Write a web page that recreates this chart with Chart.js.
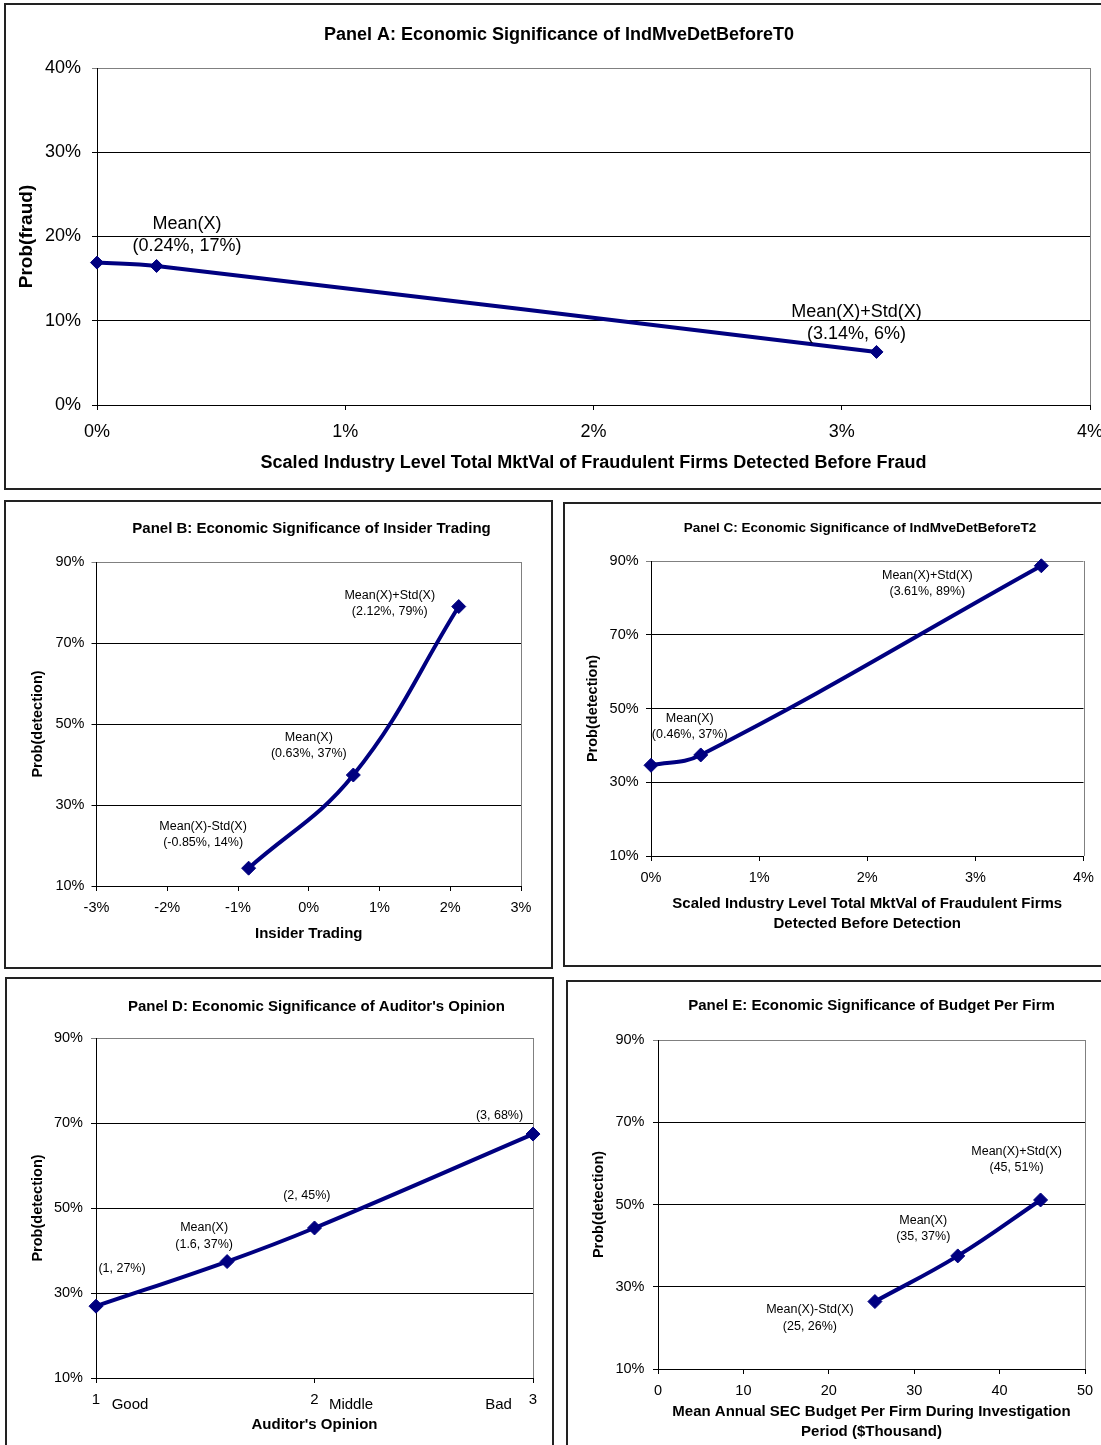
<!DOCTYPE html>
<html><head><meta charset="utf-8">
<script src="https://cdn.jsdelivr.net/npm/chart.js@4.4.0/dist/chart.umd.min.js"></script>
<style>
html,body{margin:0;padding:0;background:#fff;width:1101px;height:1445px;overflow:hidden;}
.panel{position:absolute;border:2px solid #222;box-sizing:border-box;background:#fff;}
.panel canvas{position:absolute;left:0;top:0;}
</style></head><body>
<div id="pA" class="panel"><canvas></canvas></div>
<div id="pB" class="panel"><canvas></canvas></div>
<div id="pC" class="panel"><canvas></canvas></div>
<div id="pD" class="panel"><canvas></canvas></div>
<div id="pE" class="panel"><canvas></canvas></div>
<script>
// ---------------- DATA ----------------
// Panel A
const aX = [0, 0.24, 3.14];
const aY = [16.9, 16.5, 6.3];
const aLabels = [[], ['Mean(X)', '(0.24%, 17%)'], ['Mean(X)+Std(X)', '(3.14%, 6%)']];
// Panel B
const bX = [-0.85, 0.63, 2.12];
const bY = [14.4, 37.4, 79];
const bLabels = [['Mean(X)-Std(X)', '(-0.85%, 14%)'], ['Mean(X)', '(0.63%, 37%)'], ['Mean(X)+Std(X)', '(2.12%, 79%)']];
// Panel C
const cX = [0, 0.46, 3.61];
const cY = [34.6, 37.4, 88.7];
const cLabels = [[], ['Mean(X)', '(0.46%, 37%)'], ['Mean(X)+Std(X)', '(3.61%, 89%)']];
// Panel D
const dX = [1, 1.6, 2, 3];
const dY = [26.9, 37.4, 45.3, 67.4];
const dLabels = [['(1, 27%)'], ['Mean(X)', '(1.6, 37%)'], ['(2, 45%)'], ['(3, 68%)']];
const dTickWords = ['Good', 'Middle', 'Bad'];
const dTickWordValues = [1, 2, 3];
// Panel E
const eX = [25.4, 35.1, 44.8];
const eY = [26.4, 37.5, 51.1];
const eLabels = [['Mean(X)-Std(X)', '(25, 26%)'], ['Mean(X)', '(35, 37%)'], ['Mean(X)+Std(X)', '(45, 51%)']];

// ---------------- STYLE / LAYOUT ----------------
const FONT = '"Liberation Sans", Arial, Helvetica, sans-serif';
const NAVY = '#000080';
const pct = v => v + '%';
const plain = v => String(v);

function makeChart(cfg) {
  const BW = 2;
  const div = document.getElementById(cfg.id);
  const [bx0, by0, bx1, by1] = cfg.box;
  Object.assign(div.style, {left: bx0 + 'px', top: by0 + 'px', width: (bx1 - bx0) + 'px', height: (by1 - by0) + 'px'});
  const ox = bx0 + BW, oy = by0 + BW, cw = bx1 - bx0 - 2 * BW, ch = by1 - by0 - 2 * BW;
  const canvas = div.querySelector('canvas');
  canvas.width = cw; canvas.height = ch;
  canvas.style.width = cw + 'px'; canvas.style.height = ch + 'px';
  const WY = 60, HX = 45;
  const [pl, pt, pr, pb] = cfg.plot;
  const padding = {left: pl - ox - WY, top: pt - oy, right: ox + cw - pr, bottom: oy + ch - pb - HX};
  const font = (size, bold) => (bold ? 'bold ' : '') + size + 'px ' + FONT;

  const plugin = {
    id: 'panelText' + cfg.id,
    beforeDatasetsDraw(chart) {
      const {ctx, chartArea: a} = chart;
      ctx.save();
      ctx.strokeStyle = '#808080'; ctx.lineWidth = 1;
      const rx = Math.round(a.right) + 0.5;
      ctx.beginPath(); ctx.moveTo(rx, a.top); ctx.lineTo(rx, a.bottom); ctx.stroke();
      ctx.restore();
    },
    afterDraw(chart) {
      const {ctx, chartArea: a, scales} = chart;
      ctx.save();
      ctx.fillStyle = '#000'; ctx.textAlign = 'center'; ctx.textBaseline = 'middle';
      ctx.font = font(cfg.titleSize, true);
      ctx.fillText(cfg.title, cfg.titlePos[0] - ox, cfg.titlePos[1] - oy);
      ctx.font = font(cfg.axisSize, true);
      const cxm = (a.left + a.right) / 2;
      cfg.xTitle.forEach((t, i) => ctx.fillText(t, cxm, a.bottom + cfg.xTitleDy + i * cfg.xTitleGap));
      ctx.save();
      ctx.font = font(cfg.yTitleSize, true);
      ctx.translate(a.left - cfg.yTitleDx, (a.top + a.bottom) / 2);
      ctx.rotate(-Math.PI / 2);
      ctx.fillText(cfg.yTitle, 0, 0);
      ctx.restore();
      ctx.font = font(cfg.labelSize, false);
      cfg.xs.forEach((xv, i) => {
        const lines = cfg.labels[i];
        if (!lines || !lines.length) return;
        const px = scales.x.getPixelForValue(xv), py = scales.y.getPixelForValue(cfg.ys[i]);
        const [dx, dy] = cfg.labelOffsets[i];
        lines.forEach((t, j) => ctx.fillText(t, px + dx, py + dy + j * cfg.labelGap));
      });
      if (cfg.words) {
        ctx.font = font(cfg.words.size, false);
        cfg.words.text.forEach((t, i) => {
          const px = scales.x.getPixelForValue(cfg.words.at[i]);
          ctx.fillText(t, px + cfg.words.dx[i], a.bottom + cfg.words.dy);
        });
      }
      ctx.restore();
    }
  };

  const ymax = cfg.y[1];
  return new Chart(canvas, {
    type: 'line',
    data: {
      datasets: [{
        data: cfg.xs.map((x, i) => ({x: x, y: cfg.ys[i]})),
        borderColor: NAVY, backgroundColor: NAVY, borderWidth: cfg.lineWidth,
        pointStyle: 'rectRot', pointRadius: cfg.pointRadius, pointBorderWidth: 1,
        pointBackgroundColor: NAVY, pointBorderColor: NAVY,
        tension: 0.4, clip: false, fill: false
      }]
    },
    options: {
      responsive: false, animation: false, devicePixelRatio: 1, events: [],
      layout: {padding: padding},
      plugins: {legend: {display: false}, tooltip: {enabled: false}, title: {display: false}},
      scales: {
        x: {
          type: 'linear', min: cfg.x[0], max: cfg.x[1],
          ticks: {stepSize: cfg.x[2], callback: cfg.xFmt, font: {family: FONT, size: cfg.xTickSize}, color: '#000',
                  padding: cfg.xTickPad, maxRotation: 0, autoSkip: false},
          grid: {drawOnChartArea: false, drawTicks: true, tickLength: 5, color: '#000', lineWidth: 1},
          border: {color: '#000', width: 1},
          afterFit(s) { s.height = HX; s.paddingLeft = 0; s.paddingRight = 0; }
        },
        y: {
          type: 'linear', min: cfg.y[0], max: cfg.y[1],
          ticks: {stepSize: cfg.y[2], callback: pct, font: {family: FONT, size: cfg.yTickSize}, color: '#000',
                  padding: cfg.yTickPad},
          grid: {color: c => (c.tick && c.tick.value === ymax) ? '#808080' : '#000', lineWidth: 1, tickLength: 5, drawTicks: true},
          border: {color: '#000', width: 1},
          afterFit(s) { s.width = WY; s.paddingTop = 0; s.paddingBottom = 0; }
        }
      }
    },
    plugins: [plugin]
  });
}

makeChart({
  id: 'pA', box: [4, 3, 1112, 490], plot: [97, 68, 1090, 405],
  xs: aX, ys: aY, labels: aLabels, labelOffsets: [[0, 0], [30.5, -42], [-20, -40]], labelGap: 22.5, labelSize: 18,
  x: [0, 4, 1], y: [0, 40, 10], xFmt: pct,
  xTickSize: 18, yTickSize: 18, xTickPad: 11, yTickPad: 11,
  title: 'Panel A: Economic Significance of IndMveDetBeforeT0', titleSize: 18, titlePos: [559, 35],
  xTitle: ['Scaled Industry Level Total MktVal of Fraudulent Firms Detected Before Fraud'], axisSize: 18, xTitleDy: 58, xTitleGap: 0,
  yTitle: 'Prob(fraud)', yTitleSize: 19, yTitleDx: 70,
  lineWidth: 4, pointRadius: 6.5
});

makeChart({
  id: 'pB', box: [4, 500, 553, 969], plot: [96.5, 562, 521, 886],
  xs: bX, ys: bY, labels: bLabels, labelOffsets: [[-45.5, -42], [-44.5, -37], [-69, -11]], labelGap: 16, labelSize: 12.5,
  x: [-3, 3, 1], y: [10, 90, 20], xFmt: pct,
  xTickSize: 14.5, yTickSize: 14.5, xTickPad: 8.3, yTickPad: 7,
  title: 'Panel B: Economic Significance of Insider Trading', titleSize: 15, titlePos: [311.5, 528.5],
  xTitle: ['Insider Trading'], axisSize: 15, xTitleDy: 48, xTitleGap: 0,
  yTitle: 'Prob(detection)', yTitleSize: 14.5, yTitleDx: 58.5,
  lineWidth: 4, pointRadius: 7
});

makeChart({
  id: 'pC', box: [563, 502, 1112, 967], plot: [651, 561, 1083.5, 856],
  xs: cX, ys: cY, labels: cLabels, labelOffsets: [[0, 0], [-11, -36], [-114, 9.5]], labelGap: 16, labelSize: 12.5,
  x: [0, 4, 1], y: [10, 90, 20], xFmt: pct,
  xTickSize: 14.5, yTickSize: 14.5, xTickPad: 8.3, yTickPad: 7.4,
  title: 'Panel C: Economic Significance of IndMveDetBeforeT2', titleSize: 13.5, titlePos: [860, 528.5],
  xTitle: ['Scaled Industry Level Total MktVal of Fraudulent Firms', 'Detected Before Detection'], axisSize: 15, xTitleDy: 48, xTitleGap: 19.5,
  yTitle: 'Prob(detection)', yTitleSize: 14.5, yTitleDx: 58,
  lineWidth: 4, pointRadius: 7
});

makeChart({
  id: 'pD', box: [5, 977, 554, 1455], plot: [96, 1038, 533, 1378],
  xs: dX, ys: dY, labels: dLabels, labelOffsets: [[26, -38], [-23, -34], [-7.7, -32], [-33.5, -18.7]], labelGap: 17, labelSize: 12.5,
  x: [1, 3, 1], y: [10, 90, 20], xFmt: plain,
  xTickSize: 15, yTickSize: 14.5, xTickPad: 8, yTickPad: 8,
  title: "Panel D: Economic Significance of Auditor's Opinion", titleSize: 15, titlePos: [316.4, 1006.5],
  xTitle: ["Auditor's Opinion"], axisSize: 15, xTitleDy: 47, xTitleGap: 0,
  yTitle: 'Prob(detection)', yTitleSize: 14.5, yTitleDx: 58,
  words: {text: dTickWords, at: dTickWordValues, dx: [34, 36.5, -34.5], dy: 27, size: 15},
  lineWidth: 4, pointRadius: 7
});

makeChart({
  id: 'pE', box: [566, 980, 1112, 1455], plot: [658, 1040, 1085, 1369],
  xs: eX, ys: eY, labels: eLabels, labelOffsets: [[-65, 8.3], [-34.5, -35.3], [-24, -48.3]], labelGap: 16.3, labelSize: 12.5,
  x: [0, 50, 10], y: [10, 90, 20], xFmt: plain,
  xTickSize: 14.5, yTickSize: 14.5, xTickPad: 8.3, yTickPad: 8.5,
  title: 'Panel E: Economic Significance of Budget Per Firm', titleSize: 15, titlePos: [871.5, 1006],
  xTitle: ['Mean Annual SEC Budget Per Firm During Investigation', 'Period ($Thousand)'], axisSize: 15, xTitleDy: 42.5, xTitleGap: 20,
  yTitle: 'Prob(detection)', yTitleSize: 14.5, yTitleDx: 59,
  lineWidth: 4, pointRadius: 7
});
</script>
</body></html>
